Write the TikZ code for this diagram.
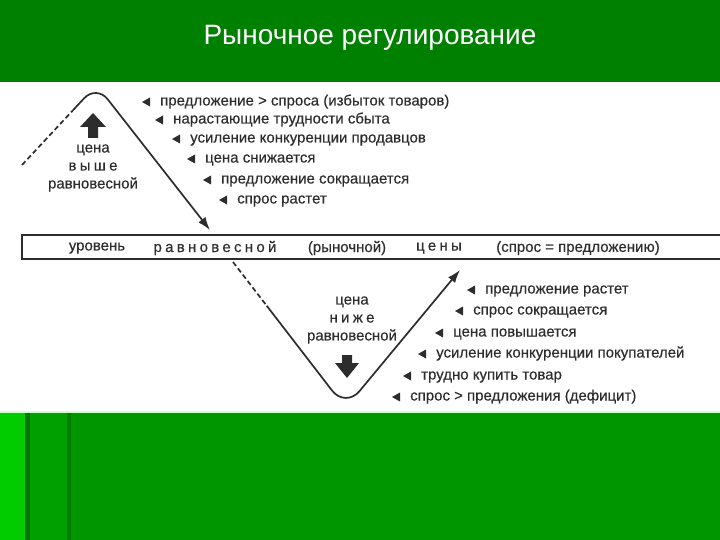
\documentclass[tikz,border=0pt]{standalone}
\usepackage{fontspec}
\setmainfont{Liberation Sans}
\newfontfamily\scanfont[FakeBold=0.35]{Liberation Sans}
\newfontfamily\spacedfont[LetterSpace=22, FakeBold=0.35]{Liberation Sans}
\usetikzlibrary{arrows.meta, calc, positioning}
\definecolor{titlegreen}{RGB}{0,128,0}
\definecolor{footgreen}{RGB}{0,150,0}
\definecolor{stripgreen}{RGB}{0,204,0}
\definecolor{seamgreen}{RGB}{0,118,0}
\definecolor{midgreen}{RGB}{0,160,0}
\definecolor{ink}{RGB}{45,45,45}
% small pointer in front of a cue
\newcommand\pointer[1]{\fill[ink] ([xshift=-18pt]#1.west) -- ++(8,4.5) -- ++(0,-9) -- cycle;}

\begin{document}
\begin{tikzpicture}[x=1pt, y=-1pt, font=\scanfont\fontsize{15}{18}\selectfont,
    cue/.style={anchor=west, inner sep=0pt, text height=10pt, text depth=3pt, text=ink},
    word/.style={text=ink, inner sep=1pt},
    trend/.style={draw=ink, line width=1.7pt},
    tip/.style={-{Latex[length=13pt, width=9pt]}}]
  \useasboundingbox (0,0) rectangle (720,540);
  % slide background
  \fill[titlegreen] (0,0) rectangle (720,82);
  \fill[white] (0,82) rectangle (720,412);
  \fill[footgreen] (0,412) rectangle (720,540);
  \fill[stripgreen] (0,412) rectangle (25,540);
  \fill[midgreen] (30,412) rectangle (67,540);
  \fill[seamgreen] (25,412) rectangle (30,540);
  \fill[seamgreen!80!footgreen] (67,412) rectangle (71,540);
  \fill[green!20] (0,410.5) rectangle (720,412.5);

  \node[text=white, font=\rmfamily\fontsize{28}{30}\selectfont] (title) at (370,38) {Рыночное регулирование};

  % level of equilibrium price
  \draw[ink, line width=1.2pt] (720,235) -- (22,235) -- (22,259) -- (720,259);
  \node[word] (lvl) at (97,248) {уровень};
  \node[word] (eqm) at (215,248) {\spacedfont равновесной};
  \node[word] (mkt) at (347,248) {(рыночной)};
  \node[word] (prc) at (439,248) {\spacedfont цены};
  \node[word] (bal) at (578,248) {(спрос = предложению)};

  % price above equilibrium
  \coordinate (hiStart) at (22,165);
  \coordinate (hiPeak) at (96.5,85);
  \coordinate (hiEnd) at (210,230);
  \coordinate (hiSplit) at ($(hiStart)!0.68!(hiPeak)$);
  \draw[trend, dash pattern=on 5pt off 3pt] (hiStart) -- (hiSplit);
  \draw[trend, tip, rounded corners=18pt] (hiSplit) -- (hiPeak) -- (hiEnd);
  \fill[ink] (88,138) -- (88,127) -- (80,127) -- (93,113) -- (106,127) -- (98,127) -- (98,138) -- cycle;
  \node[word, align=center] (hiNote) at (93,168) {цена\\{\spacedfont выше}\\равновесной};

  \node[cue] (h1) at (160,102) {предложение > спроса (избыток товаров)};
  \node[cue] (h2) at (173,120) {нарастающие трудности сбыта};
  \node[cue] (h3) at (190,139) {усиление конкуренции продавцов};
  \node[cue] (h4) at (205,159) {цена снижается};
  \node[cue] (h5) at (221,180) {предложение сокращается};
  \node[cue] (h6) at (237,200) {спрос растет};
  \foreach \n in {h1,h2,h3,h4,h5,h6} {\pointer{\n}}

  % price below equilibrium
  \coordinate (loStart) at (233,262);
  \coordinate (loDip) at (345.5,408);
  \coordinate (loEnd) at (460,270);
  \coordinate (loSplit) at ($(loStart)!0.3!(loDip)$);
  \draw[trend, dash pattern=on 5pt off 3pt] (loStart) -- (loSplit);
  \draw[trend, tip, rounded corners=22pt] (loSplit) -- (loDip) -- (loEnd);
  \fill[ink] (342,355) -- (342,363) -- (335,363) -- (347,378) -- (359,363) -- (352,363) -- (352,355) -- cycle;
  \node[word, align=center] (loNote) at (352,320) {цена\\{\spacedfont ниже}\\равновесной};

  \node[cue] (l1) at (485,290) {предложение растет};
  \node[cue] (l2) at (473,311) {спрос сокращается};
  \node[cue] (l3) at (453,333) {цена повышается};
  \node[cue] (l4) at (436,354) {усиление конкуренции покупателей};
  \node[cue] (l5) at (421,376) {трудно купить товар};
  \node[cue] (l6) at (410,397) {спрос > предложения (дефицит)};
  \foreach \n in {l1,l2,l3,l4,l5,l6} {\pointer{\n}}
\end{tikzpicture}
\end{document}
